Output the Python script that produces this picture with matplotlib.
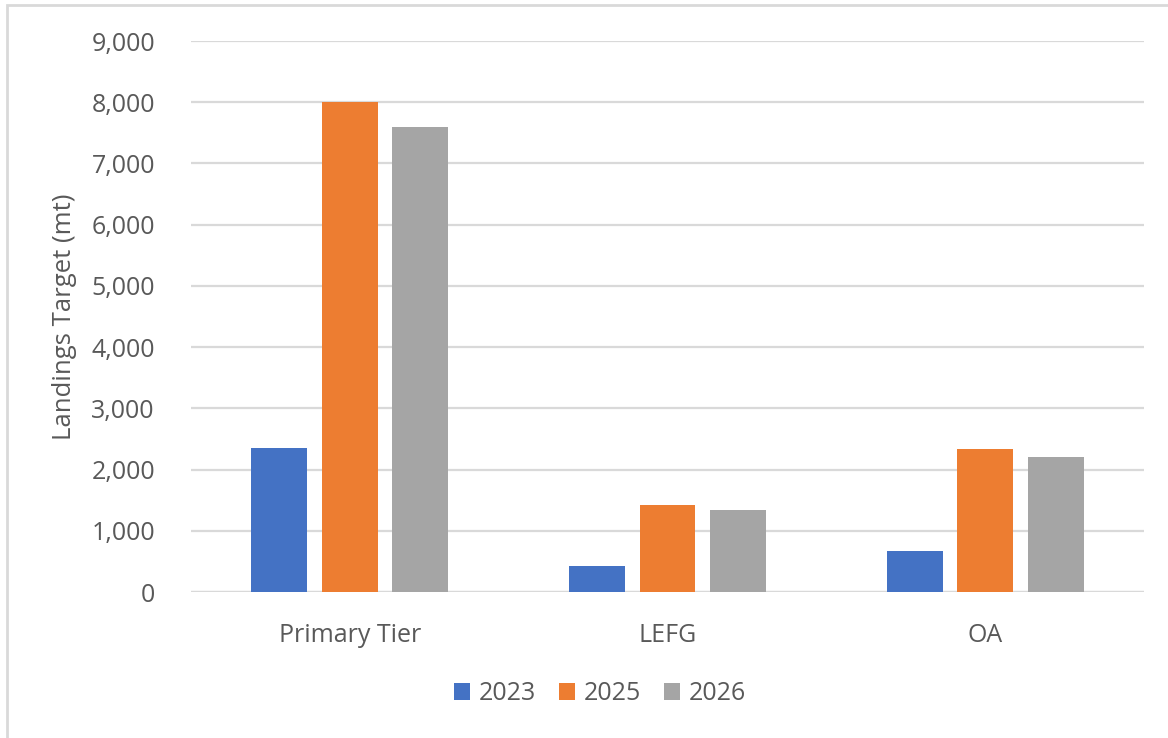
import numpy as np
from matplotlib import pyplot as plt
from matplotlib.patches import Rectangle

categories = ['Primary Tier', 'LEFG', 'OA']
years      = ['2023', '2025', '2026']
values     = {'2023': [2360, 425, 675],
              '2025': [8000, 1420, 2340],
              '2026': [7600, 1345, 2200]}
colors     = ['#4472C4', '#ED7D31', '#A5A5A5']
yticks     = np.arange(0, 9001, 1000)

plt.rcParams['font.family'] = ['Open Sans', 'DejaVu Sans']
txt = '#595959'

fig = plt.figure(figsize=(11.68, 7.38), dpi=100)
ax = fig.add_axes([191/1168, 1 - 592/738, (1144 - 191)/1168, (592 - 41)/738])

# outer chart frame
fig.patches.append(Rectangle((7/1168, -0.01), 1.02, 1 - 5/738 + 0.01, transform=fig.transFigure,
                             fill=False, edgecolor='#d9d9d9', linewidth=2))

x = np.arange(len(categories))
width, step = 0.176, 0.222
for i, (yr, c) in enumerate(zip(years, colors)):
    ax.bar(x + (i - 1) * step, values[yr], width, color=c, label=yr, zorder=3)

ax.set_xlim(-0.5, 2.5)
ax.set_ylim(0, 9000)
ax.set_yticks(yticks)
ax.set_yticklabels(['{:,}'.format(v) for v in yticks])
ax.set_xticks(x)
ax.set_xticklabels(categories)
ax.yaxis.grid(True, color='#d9d9d9', linewidth=1.6, zorder=0)
ax.tick_params(length=0, labelsize=18, colors=txt)
ax.tick_params(axis='y', pad=26)
ax.tick_params(axis='x', pad=22)
for s in ax.spines.values():
    s.set_visible(False)
ax.axhline(0, color='#d9d9d9', linewidth=1.6, zorder=2)

ax.set_ylabel('Landings Target (mt)', fontsize=18.5, color=txt, labelpad=10)

fig.legend(loc='center', bbox_to_anchor=(600/1168, 1 - 694/738), ncol=3, frameon=False,
           fontsize=18, labelcolor=txt, handlelength=0.65, handleheight=0.65,
           handletextpad=0.35, columnspacing=0.9)

fig.savefig('out.png', dpi=100)
